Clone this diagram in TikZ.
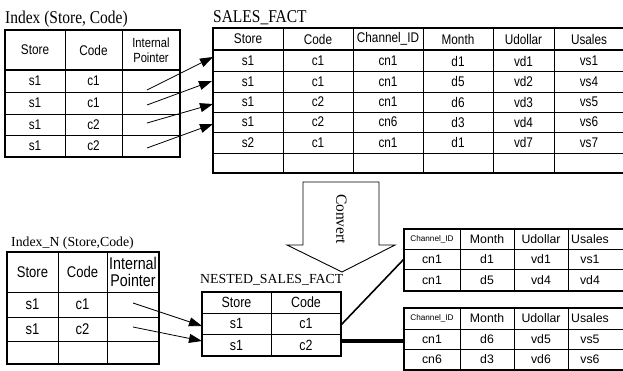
\documentclass[tikz,border=0pt]{standalone}
\usepackage{fontspec}
\usetikzlibrary{arrows.meta}
\newfontfamily\cellfont{Liberation Sans}[FakeStretch=0.84]
\newfontfamily\plainsans{Liberation Sans}
\newfontfamily\titlefont{Liberation Serif}[FakeStretch=0.86]
\newfontfamily\plainserif{Liberation Serif}
\tikzset{
  tblouter/.style={line width=1.6pt},
  tblinner/.style={line width=0.7pt},
  tblhdr/.style={line width=1.8pt},
  cellA/.style={inner sep=0pt, font=\cellfont\fontsize{14}{14}\selectfont},
  cellN/.style={inner sep=0pt, font=\cellfont\fontsize{15.5}{15.5}\selectfont},
  cellM/.style={inner sep=0pt, font=\cellfont\fontsize{14.8}{14.8}\selectfont},
  cellS/.style={inner sep=0pt, font=\plainsans\fontsize{12.3}{12.3}\selectfont},
  cellT/.style={inner sep=0pt, font=\plainsans\fontsize{8.2}{8.2}\selectfont},
  ptr/.style={line width=0.8pt, -{Triangle[length=13pt,width=9pt]}},
  ttlA/.style={anchor=base west, inner sep=0pt, font=\titlefont\fontsize{18}{18}\selectfont},
  ttlB/.style={anchor=base west, inner sep=0pt, font=\plainserif\fontsize{13.8}{13.8}\selectfont},
}
\begin{document}
\begin{tikzpicture}[x=1pt,y=-1pt]
\useasboundingbox (0,0) rectangle (623,371);
\clip (0,0) rectangle (623,371);

% ---------- Index (Store, Code)
\node[ttlA] (tidx) at (5,24) {Index (Store, Code)};
\foreach \x in {65,122} \draw[tblinner] (\x,30) -- (\x,157);
\foreach \y in {92,114,135} \draw[tblinner] (5,\y) -- (180,\y);
\draw[tblhdr] (5,70) -- (180,70);
\draw[tblouter] (5,30) rectangle (180,157);
\node[cellA] (ih1) at (35,50) {Store};
\node[cellA] (ih2) at (93.5,50) {Code};
\node[cellA, align=center, font=\cellfont\fontsize{13.3}{14.5}\selectfont] (ih3) at (151,50) {Internal\\Pointer};
\foreach \s/\c/\y [count=\i] in {s1/c1/81, s1/c1/103, s1/c2/124.5, s1/c2/146} {
  \node[cellA] (is\i) at (35,\y) {\s};
  \node[cellA] (ic\i) at (93.5,\y) {\c};
}

% ---------- SALES_FACT
\node[ttlA] (tsf) at (213,22.7) {SALES\_FACT};
\foreach \x in {283,353,423,493,554} \draw[tblinner] (\x,28) -- (\x,173);
\foreach \y in {71,92,112,132,153} \draw[tblinner] (213,\y) -- (626,\y);
\draw[tblhdr] (213,50) -- (626,50);
\draw[tblouter] (213,28) rectangle (626,173);
\foreach \t/\x [count=\i] in {Store/248, Code/318, Channel\_ID/388, Month/458, Udollar/523.5, Usales/589}
  \node[cellA] (sfh\i) at (\x,39) {\t};
\foreach \t/\x [count=\i] in {s1/248, c1/318, cn1/388, d1/458, vd1/523.5, vs1/589}
  \node[cellA] (sfa\i) at (\x,61) {\t};
\foreach \t/\x [count=\i] in {s1/248, c1/318, cn1/388, d5/458, vd2/523.5, vs4/589}
  \node[cellA] (sfb\i) at (\x,81.5) {\t};
\foreach \t/\x [count=\i] in {s1/248, c2/318, cn1/388, d6/458, vd3/523.5, vs5/589}
  \node[cellA] (sfc\i) at (\x,102) {\t};
\foreach \t/\x [count=\i] in {s1/248, c2/318, cn6/388, d3/458, vd4/523.5, vs6/589}
  \node[cellA] (sfd\i) at (\x,122) {\t};
\foreach \t/\x [count=\i] in {s2/248, c1/318, cn1/388, d1/458, vd7/523.5, vs7/589}
  \node[cellA] (sfe\i) at (\x,142.5) {\t};

% pointers Index -> SALES_FACT
\coordinate (p1) at (147,90);  \coordinate (q1) at (213,57);
\coordinate (p2) at (147,105); \coordinate (q2) at (212,81);
\coordinate (p3) at (147,123); \coordinate (q3) at (213,104);
\coordinate (p4) at (147,148); \coordinate (q4) at (213,124);
\foreach \i in {1,...,4} \draw[ptr] (p\i) -- (q\i);

% ---------- Convert arrow
\draw[line width=0.9pt, fill=white] (303,182) -- (379,182) -- (379,245) -- (395,245)
  -- (342,272) -- (287,245) -- (303,245) -- cycle;
\node[rotate=-90, inner sep=0pt, font=\plainserif\fontsize{15.5}{15.5}\selectfont] (conv) at (341.5,219) {Convert};

% ---------- Index_N (Store,Code)
\node[ttlB] (tidn) at (11,246.7) {Index\_N (Store,Code)};
\foreach \x in {58,107} \draw[tblinner] (\x,252) -- (\x,364);
\foreach \y in {292,317,341} \draw[tblinner] (7,\y) -- (159,\y);
\draw[tblouter] (7,252) rectangle (159,364);
\node[cellN] (nh1) at (32.5,272) {Store};
\node[cellN] (nh2) at (82.5,272) {Code};
\node[cellN, align=center, font=\cellfont\fontsize{17}{17.5}\selectfont] (nh3) at (133,272) {Internal\\Pointer};
\node[cellN] (ns1) at (32.5,304.5) {s1};
\node[cellN] (nc1) at (82.5,304.5) {c1};
\node[cellN] (ns2) at (32.5,329) {s1};
\node[cellN] (nc2) at (82.5,329) {c2};

% ---------- NESTED_SALES_FACT
\node[ttlB] (tnsf) at (200,283) {NESTED\_SALES\_FACT};
\draw[tblinner] (271,292) -- (271,356);
\foreach \y in {313,334} \draw[tblinner] (202,\y) -- (341,\y);
\draw[tblouter] (202,292) rectangle (341,356);
\node[cellM] (mh1) at (236.5,302.5) {Store};
\node[cellM] (mh2) at (306,302.5) {Code};
\node[cellM] (ms1) at (236.5,323.5) {s1};
\node[cellM] (mc1) at (306,323.5) {c1};
\node[cellM] (ms2) at (236.5,345) {s1};
\node[cellM] (mc2) at (306,345) {c2};

% pointers Index_N -> NESTED
\coordinate (u1) at (133,303); \coordinate (v1) at (202,326);
\coordinate (u2) at (133,327); \coordinate (v2) at (202,341);
\draw[ptr] (u1) -- (v1);
\draw[ptr] (u2) -- (v2);

% ---------- nested sub-tables
\foreach \x in {460,514,568} \draw[tblinner] (\x,229) -- (\x,291);
\foreach \y in {249,269} \draw[tblinner] (404,\y) -- (626,\y);
\draw[tblouter] (404,229) rectangle (626,291);
\node[cellT] (ah0) at (432,239) {Channel\_ID};
\foreach \t/\x [count=\i] in {Month/487, Udollar/541, Usales/590}
  \node[cellS] (ah\i) at (\x,239) {\t};
\foreach \t/\x [count=\i] in {cn1/432, d1/487, vd1/541, vs1/590}
  \node[cellS] (aa\i) at (\x,259) {\t};
\foreach \t/\x [count=\i] in {cn1/432, d5/487, vd4/541, vd4/590}
  \node[cellS] (ab\i) at (\x,280) {\t};

\foreach \x in {460,514,568} \draw[tblinner] (\x,308) -- (\x,370);
\foreach \y in {329,349} \draw[tblinner] (404,\y) -- (626,\y);
\draw[tblouter] (404,308) rectangle (626,370);
\node[cellT] (bh0) at (432,318.5) {Channel\_ID};
\foreach \t/\x [count=\i] in {Month/487, Udollar/541, Usales/590}
  \node[cellS] (bh\i) at (\x,318.5) {\t};
\foreach \t/\x [count=\i] in {cn1/432, d6/487, vd5/541, vs5/590}
  \node[cellS] (ba\i) at (\x,339) {\t};
\foreach \t/\x [count=\i] in {cn6/432, d3/487, vd6/541, vs6/590}
  \node[cellS] (bb\i) at (\x,359.5) {\t};

% links from nested rows to sub-tables
\coordinate (r1) at (341,325); \coordinate (s1) at (404,259);
\coordinate (r2) at (341,341); \coordinate (s2) at (404,341);
\draw[line width=1.6pt] (r1) -- (s1);
\draw[line width=3.2pt] (r2) -- (s2);
\end{tikzpicture}
\end{document}
